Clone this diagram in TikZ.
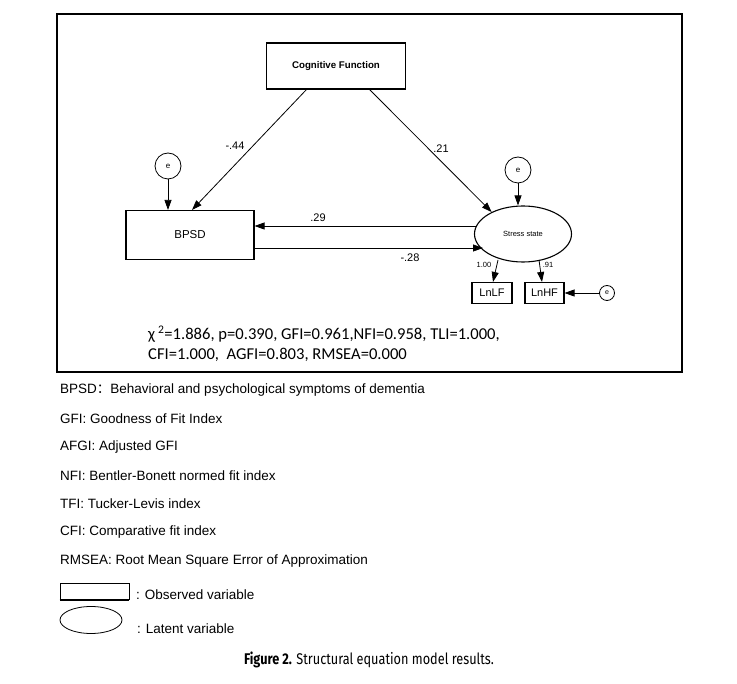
\documentclass[tikz,border=0pt]{standalone}
\usepackage{fontspec}
\setmainfont{Liberation Sans}
\newfontfamily\fitfont{Carlito}
\newfontfamily\capfont{Fira Sans}
\newfontfamily\cjk{Noto Sans CJK SC}
\usetikzlibrary{arrows.meta,shapes.geometric}
\begin{document}
\begin{tikzpicture}[x=1pt,y=-1pt,
  obs/.style={draw,line width=1.1pt,inner sep=0pt,minimum width=#1},
  errc/.style={draw,circle,line width=0.8pt,inner sep=0pt,minimum size=26pt,font=\fontsize{8}{9}\selectfont},
  path/.style={line width=0.8pt,-{Triangle[length=10pt,width=7pt]}},
  lbl/.style={font=\fontsize{11}{13}\selectfont,inner sep=1pt},
  leg/.style={anchor=west,font=\fontsize{13.5}{15}\selectfont,inner sep=0pt}]
\useasboundingbox (0,0) rectangle (737,684);
\fill[white] (0,0) rectangle (737,684);
\draw[line width=2pt] (57,14) rectangle (682,372);
% nodes
\node[obs=139pt,minimum height=46pt,font=\bfseries\fontsize{9.7}{11}\selectfont] (cf) at (336,66) {Cognitive Function};
\node[obs=128pt,minimum height=49pt,font=\fontsize{11.5}{13}\selectfont] (bpsd) at (190,235) {BPSD};
\node[draw,ellipse,line width=1.1pt,minimum width=97pt,minimum height=56pt,inner sep=0pt,font=\fontsize{7.5}{8}\selectfont] (ss) at (523,234) {Stress state};
\node[errc] (e1) at (168,166) {e};
\node[errc] (e2) at (518,170) {e};
\node[obs=40pt,minimum height=21pt,font=\fontsize{11}{12}\selectfont] (lf) at (492,293) {LnLF};
\node[obs=39pt,minimum height=21pt,font=\fontsize{11}{12}\selectfont] (hf) at (544.5,293) {LnHF};
\node[draw,circle,line width=0.8pt,minimum size=15pt,inner sep=0pt,font=\fontsize{7}{8}\selectfont] (e3) at (607,293) {e};
% paths
\coordinate (a1) at (307,89);
\coordinate (a2) at (369,89);
\draw[path] (a1) -- (192,210);
\draw[path] (a2) -- (ss.145);
\node[lbl] (l44) at (235,146) {-.44};
\node[lbl] (l21) at (441,149) {.21};
\draw[path] (475.5,226) -- (bpsd.east |- 0,226);
\node[lbl] (l29) at (318,218) {.29};
\draw[path] (bpsd.east |- 0,248) -- (483,248);
\node[lbl] (l28) at (410,258) {-.28};
\draw[path] (e1) -- (e1 |- bpsd.north);
\draw[path] (e2) -- (ss.north -| e2);
\draw[path] (498,260) -- (lf.north -| 493,0);
\draw[path] (539,260) -- (hf.north -| 542,0);
\node[font=\fontsize{7.5}{8}\selectfont,inner sep=0pt] (l100) at (484,265) {1.00};
\node[font=\fontsize{7.5}{8}\selectfont,inner sep=0pt] (l91) at (548,265) {.91};
\draw[path] (e3) -- (hf);
% fit text
\node[anchor=west,inner sep=0pt,font=\fitfont\fontsize{16.6}{19}\selectfont] (fit1) at (148,334) {χ\,\textsuperscript{2}=1.886, p=0.390, GFI=0.961,NFI=0.958, TLI=1.000,};
\node[anchor=west,inner sep=0pt,font=\fitfont\fontsize{16.6}{19}\selectfont] (fit2) at (148,355) {CFI=1.000,\ \ AGFI=0.803, RMSEA=0.000};
% legend
\node[leg] (g1) at (60,390) {BPSD{\cjk ：}Behavioral and psychological symptoms of dementia};
\node[leg] (g2) at (60,419) {GFI: Goodness of Fit Index};
\node[leg] (g3) at (60,447) {AFGI: Adjusted GFI};
\node[leg] (g4) at (60,476) {NFI: Bentler-Bonett normed fit index};
\node[leg] (g5) at (60,504) {TFI: Tucker-Levis index};
\node[leg] (g6) at (60,532) {CFI: Comparative fit index};
\node[leg] (g7) at (60,561) {RMSEA: Root Mean Square Error of Approximation};
\draw[line width=0.6pt] (60,600) -- (60,583) -- (129,583) -- (129,600);
\draw[line width=1.6pt] (59.7,600) -- (129.3,600);
\node[leg] (g8) at (136,595) {: Observed variable};
\node[draw,ellipse,line width=0.8pt,minimum width=62pt,minimum height=27pt,inner sep=0pt] (legell) at (91,620) {};
\node[leg] (g9) at (137,629) {: Latent variable};
% caption
\node[inner sep=0pt] (cap) at (369,660) {\scalebox{0.82}[1]{\capfont\fontsize{15.5}{17}\selectfont\textbf{Figure 2.} Structural equation model results.}};
\end{tikzpicture}
\end{document}
